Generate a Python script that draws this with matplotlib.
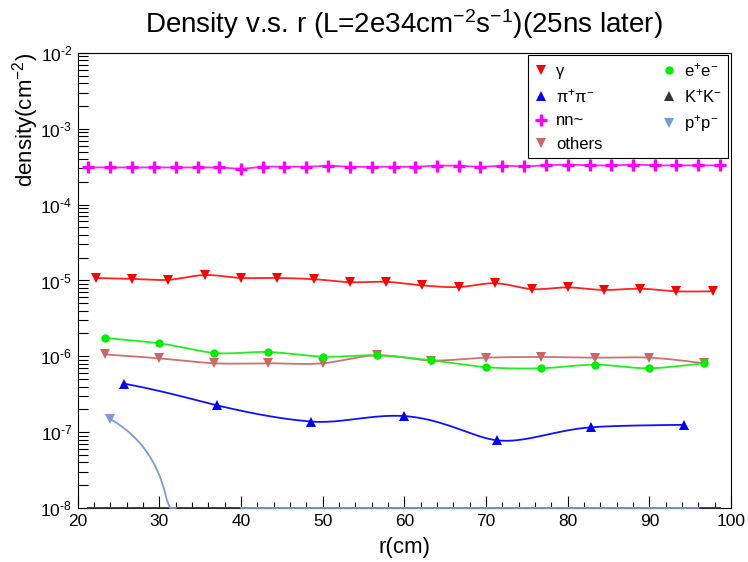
import numpy as np
import matplotlib
matplotlib.use('Agg')
import matplotlib.pyplot as plt
from matplotlib.ticker import LogLocator, MultipleLocator, NullFormatter, FuncFormatter

plt.rcParams['font.family'] = ['Liberation Sans', 'DejaVu Sans']
plt.rcParams['mathtext.fontset'] = 'custom'
plt.rcParams['mathtext.rm'] = 'Liberation Sans'
plt.rcParams['mathtext.it'] = 'Liberation Sans:italic'
plt.rcParams['mathtext.default'] = 'regular'

# bin centres (cm) for the different binnings
r30 = [21.3, 24.0, 26.7, 29.3, 32.0, 34.7, 37.3, 40.0, 42.7, 45.3,
       48.0, 50.7, 53.3, 56.0, 58.7, 61.3, 64.0, 66.7, 69.3, 72.0,
       74.7, 77.3, 80.0, 82.7, 85.3, 88.0, 90.7, 93.3, 96.0, 98.7]
r18 = [22.2, 26.7, 31.1, 35.6, 40.0, 44.4, 48.9, 53.3, 57.8, 62.2,
       66.7, 71.1, 75.6, 80.0, 84.4, 88.9, 93.3, 97.8]
r12 = [23.3, 30.0, 36.7, 43.3, 50.0, 56.7, 63.3, 70.0, 76.7, 83.3, 90.0, 96.7]
r10 = [24.0, 32.0, 40.0, 48.0, 56.0, 64.0, 72.0, 80.0, 88.0, 96.0]
r7 = [25.7, 37.1, 48.6, 60.0, 71.4, 82.9, 94.3]

# densities (cm^-2)
gamma = [1.08e-5, 1.05e-5, 1.02e-5, 1.18e-5, 1.08e-5, 1.08e-5, 1.04e-5, 0.95e-5,
         0.96e-5, 0.86e-5, 0.82e-5, 0.92e-5, 0.77e-5, 0.81e-5, 0.75e-5, 0.78e-5,
         0.72e-5, 0.72e-5]
pipi = [4.35e-7, 2.25e-7, 1.38e-7, 1.63e-7, 7.8e-8, 1.16e-7, 1.25e-7]
nn = [3.10e-4, 3.10e-4, 3.10e-4, 3.10e-4, 3.10e-4, 3.10e-4, 3.10e-4, 2.98e-4,
      3.16e-4, 3.16e-4, 3.16e-4, 3.26e-4, 3.16e-4, 3.16e-4, 3.16e-4, 3.16e-4,
      3.26e-4, 3.26e-4, 3.16e-4, 3.26e-4, 3.20e-4, 3.30e-4, 3.37e-4, 3.30e-4,
      3.30e-4, 3.37e-4, 3.30e-4, 3.30e-4, 3.30e-4, 3.30e-4]
others = [1.06e-6, 0.94e-6, 0.81e-6, 0.81e-6, 0.81e-6, 1.03e-6, 0.88e-6, 0.96e-6,
          0.98e-6, 0.96e-6, 0.96e-6, 0.81e-6]
ee = [1.75e-6, 1.48e-6, 1.11e-6, 1.14e-6, 0.99e-6, 1.03e-6, 0.885e-6, 0.72e-6,
      0.695e-6, 0.776e-6, 0.695e-6, 0.81e-6]
kk = [0.0] * 30
pp = [1.48e-7, 0, 0, 0, 0, 0, 0, 0, 0, 0]

YMIN, YMAX = 1e-8, 1e-2


def smooth(x, y, n=25):
    # Catmull-Rom curve through the points, like ROOT's "C" option
    x = np.asarray(x, float)
    y = np.asarray(y, float)
    xp = np.concatenate([[x[0]], x, [x[-1]]])
    yp = np.concatenate([[y[0]], y, [y[-1]]])
    t = np.linspace(0, 1, n)
    h00 = 2 * t**3 - 3 * t**2 + 1
    h10 = t**3 - 2 * t**2 + t
    h01 = -2 * t**3 + 3 * t**2
    h11 = t**3 - t**2
    xs, ys = [], []
    for i in range(1, len(xp) - 2):
        mx0 = (xp[i + 1] - xp[i - 1]) / 2
        mx1 = (xp[i + 2] - xp[i]) / 2
        my0 = (yp[i + 1] - yp[i - 1]) / 2
        my1 = (yp[i + 2] - yp[i]) / 2
        xs.append(h00 * xp[i] + h10 * mx0 + h01 * xp[i + 1] + h11 * mx1)
        ys.append(h00 * yp[i] + h10 * my0 + h01 * yp[i + 1] + h11 * my1)
    xs = np.concatenate(xs)
    ys = np.concatenate(ys)
    # negative part is dropped, tiny values sit on the bottom of the frame
    ys = np.where(ys < 0, np.nan, np.maximum(ys, YMIN))
    return xs, ys


fig = plt.figure(figsize=(7.48, 5.62), dpi=100)
ax = fig.add_axes([0.1039, 0.0961, 0.8734, 0.8096])

series = [
    (r18, gamma, 'γ', 'v', '#ff0000', '#ff2020', 7, 0),
    (r7, pipi, 'π$^{+}$π$^{-}$', '^', '#0000ff', '#1010ff', 7, 0),
    (r30, nn, 'nn~', '+', '#ff00ff', '#ff20ff', 8, 2.4),
    (r12, others, 'others', 'v', '#cc6666', '#d07070', 7, 0),
    (r12, ee, 'e$^{+}$e$^{-}$', 'o', '#00ee00', '#20f020', 6, 0),
    (r30, kk, 'K$^{+}$K$^{-}$', '^', '#333333', '#333333', 7, 0),
    (r10, pp, 'p$^{+}$p$^{-}$', 'v', '#7b9ad6', '#7b9ad6', 7, 0),
]

handles = []
for x, y, lab, mk, mc, lc, ms, mew in series:
    xs, ys = smooth(x, y)
    ax.plot(xs, ys, color=lc, lw=1.3, zorder=2.6, clip_on=False)
    yv = np.where(np.asarray(y) > 0, y, np.nan)
    h, = ax.plot(x, yv, linestyle='none', marker=mk, color=mc, ms=ms,
                 markeredgewidth=mew, zorder=3, label=lab)
    handles.append(h)

ax.set_yscale('log')
ax.set_xlim(20, 100)
ax.set_ylim(YMIN, YMAX)

ax.xaxis.set_major_locator(MultipleLocator(10))
ax.xaxis.set_minor_locator(MultipleLocator(2))
ax.yaxis.set_major_locator(LogLocator(base=10, numticks=10))
ax.yaxis.set_minor_locator(LogLocator(base=10, subs=np.arange(2, 10), numticks=20))
ax.yaxis.set_minor_formatter(NullFormatter())
ax.yaxis.set_major_formatter(
    FuncFormatter(lambda v, p: r'$10^{\text{-}%d}$' % round(-np.log10(v))))

ax.tick_params(which='both', direction='in', top=False, right=False,
               width=0.8, labelsize=12.5)
ax.tick_params(axis='x', which='major', length=8.5, pad=4)
ax.tick_params(axis='x', which='minor', length=4.3)
ax.tick_params(axis='y', which='major', length=8, pad=4)
ax.tick_params(axis='y', which='minor', length=7)
for sp in ax.spines.values():
    sp.set_linewidth(0.8)

fig.text(0.540, 1 - 33 / 562,
         'Density v.s. r (L=2e34cm$^{-2}$s$^{-1}$)(25ns later)',
         ha='center', va='baseline', fontsize=20)
fig.text(0.5414, 1 - 548 / 562, 'r(cm)', ha='center', va='center', fontsize=16)
fig.text(26 / 748, 1 - 120 / 562, 'density(cm$^{-2}$)', ha='center',
         va='center', rotation=90, fontsize=16)

leg = ax.legend(handles=handles, ncol=2, loc='upper right',
                bbox_to_anchor=(0.995, 0.9956), borderaxespad=0,
                fancybox=False, edgecolor='black', framealpha=1,
                fontsize=12, handlelength=0.8, handletextpad=0.5,
                columnspacing=3.6, labelspacing=0.5, borderpad=0.35)
leg.get_frame().set_linewidth(0.8)

fig.savefig('out.png', dpi=100)
